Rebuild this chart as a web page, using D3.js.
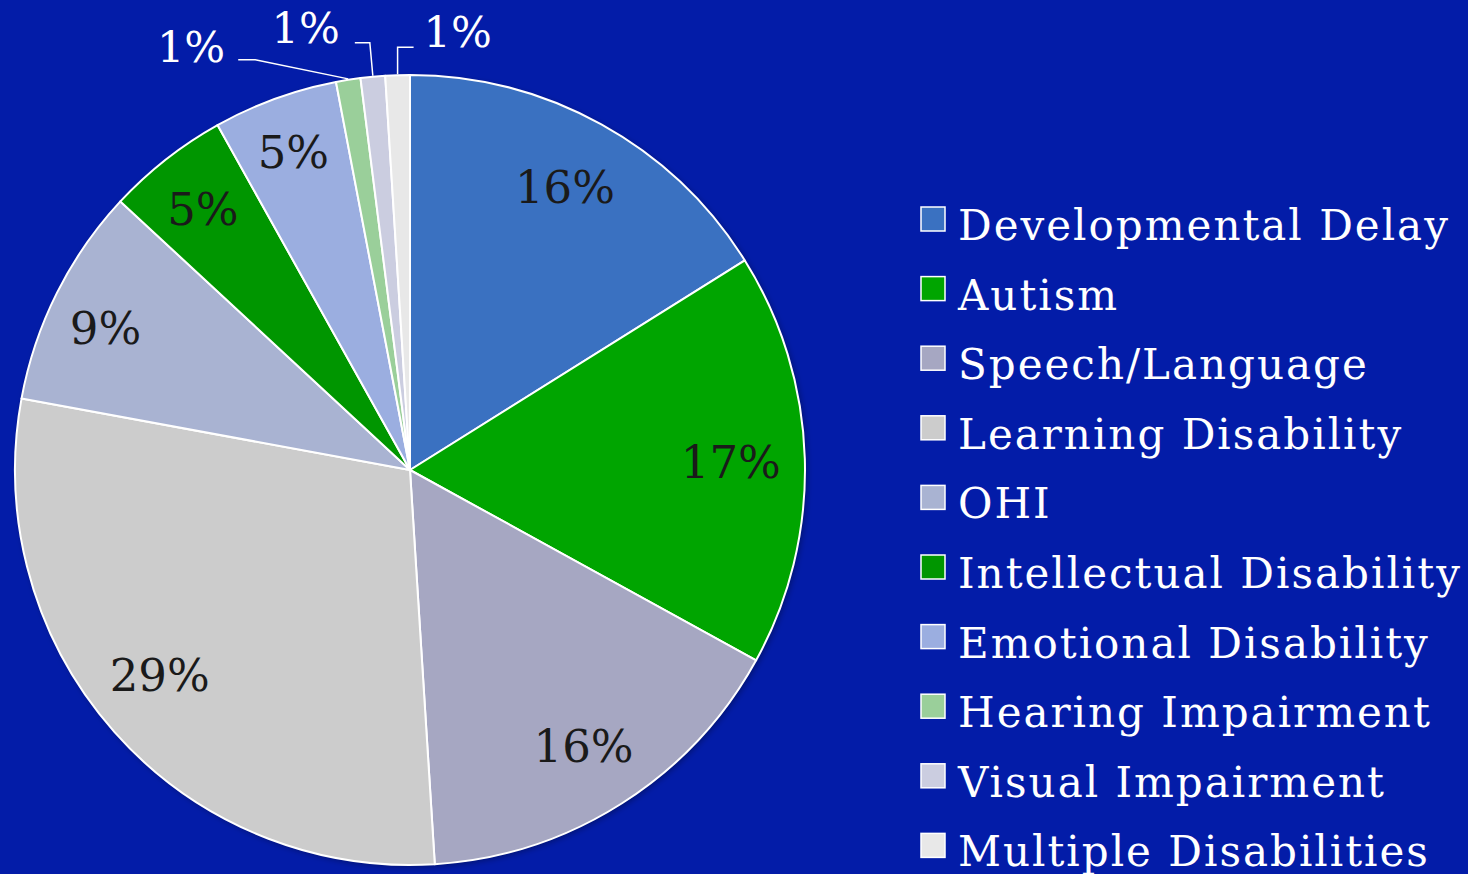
<!DOCTYPE html>
<html>
<head>
<meta charset="utf-8">
<script src="https://cdn.jsdelivr.net/npm/d3@7"></script>
<style>
  html, body { margin: 0; padding: 0; background: #031ca8; }
  svg { display: block; }
  text { font-family: "DejaVu Serif", "Liberation Serif", serif; }
</style>
</head>
<body>
<svg width="1468" height="874"></svg>
<script>
const categories = [
  'Developmental Delay', 'Autism', 'Speech/Language', 'Learning Disability', 'OHI',
  'Intellectual Disability', 'Emotional Disability', 'Hearing Impairment',
  'Visual Impairment', 'Multiple Disabilities'
];
const shares = [16.1, 16.9, 16.0, 28.9, 9.0, 5.0, 5.1, 1.0, 1.0, 1.0];
const labels = ['16%', '17%', '16%', '29%', '9%', '5%', '5%', '1%', '1%', '1%'];
const colors = [
  '#3a71c1', '#00a500', '#a6a7c2', '#cccccc', '#a9b3d2',
  '#009600', '#9baee0', '#9acf9a', '#cbcde0', '#e8e8e8'
];

const svg = d3.select('svg');

const cx = 410, cy = 470, radius = 395;

// soft shadow behind the pie
const defs = svg.append('defs');
const shadow = defs.append('filter').attr('id', 'shadow')
  .attr('x', '-10%').attr('y', '-10%').attr('width', '120%').attr('height', '120%');
shadow.append('feDropShadow')
  .attr('dx', 2).attr('dy', 2).attr('stdDeviation', 3)
  .attr('flood-color', '#000').attr('flood-opacity', 0.35);

const data = categories.map((c, i) => ({ name: c, value: shares[i], label: labels[i], color: colors[i] }));

const pie = d3.pie().sort(null).value(d => d.value);
const arcs = pie(data);

const arc = d3.arc().innerRadius(0).outerRadius(radius);
const labelArc = d3.arc().innerRadius(radius * 0.82).outerRadius(radius * 0.82);
const edgeArc = d3.arc().innerRadius(radius).outerRadius(radius);

const g = svg.append('g').attr('transform', `translate(${cx}, ${cy})`);

g.append('circle').attr('r', radius).attr('fill', '#fff').attr('filter', 'url(#shadow)');

g.selectAll('path.slice')
  .data(arcs)
  .join('path')
  .attr('class', 'slice')
  .attr('d', arc)
  .attr('fill', d => d.data.color)
  .attr('stroke', '#fff')
  .attr('stroke-width', 2)
  .attr('stroke-linejoin', 'round');

// inside labels; small nudges mimic the "best fit" placement
const nudges = [[-2, 0], [-3, 1], [0, 2], [-8, -10], [-15, 3], [-7, -7], [-6, -14]];
const inside = arcs.filter(d => d.data.value >= 3);
g.selectAll('text.inside')
  .data(inside)
  .join('text')
  .attr('class', 'inside')
  .attr('transform', (d, i) => {
    const [x, y] = labelArc.centroid(d);
    return `translate(${x + nudges[i][0]}, ${y + nudges[i][1]})`;
  })
  .attr('text-anchor', 'middle')
  .attr('dy', '0.36em')
  .attr('font-size', 45)
  .attr('fill', '#1a1a1a')
  .text(d => d.data.label);

// outside labels with leader lines for the tiny slices
const outsideLayout = [
  { elbow: [-93, -20], end: -17, anchor: 'end', gap: -13, base: 2 },
  { elbow: [-3, -34], end: -15, anchor: 'end', gap: -15, base: 0 },
  { elbow: [0, -28], end: 16, anchor: 'start', gap: 10, base: 0 }
];
const outside = arcs.filter(d => d.data.value < 3);
outside.forEach((d, i) => {
  const [ex, ey] = edgeArc.centroid(d);
  const L = outsideLayout[i];
  const kx = ex + L.elbow[0], ky = ey + L.elbow[1];
  const pts = [[ex, ey - 1], [kx, ky], [kx + L.end, ky]];
  g.append('path')
    .attr('d', d3.line()(pts))
    .attr('fill', 'none')
    .attr('stroke', '#fff')
    .attr('stroke-width', 1.5);
  g.append('text')
    .attr('x', kx + L.end + L.gap)
    .attr('y', ky + L.base)
    .attr('text-anchor', L.anchor)
    .attr('font-size', 43)
    .attr('fill', '#fff')
    .text(d.data.label);
});

// legend
const legendX = 921, legendY0 = 219, legendStep = 69.6, swatch = 24;
const legend = svg.append('g').attr('class', 'legend');
const item = legend.selectAll('g')
  .data(data)
  .join('g')
  .attr('transform', (d, i) => `translate(${legendX}, ${legendY0 + i * legendStep})`);
item.append('rect')
  .attr('x', 0).attr('y', -swatch / 2)
  .attr('width', swatch).attr('height', swatch)
  .attr('fill', d => d.color)
  .attr('stroke', '#fff').attr('stroke-width', 1.5);
item.append('text')
  .attr('x', 37)
  .attr('y', 21)
  .attr('font-size', 42)
  .attr('letter-spacing', 2)
  .attr('fill', '#fff')
  .text(d => d.name);
</script>
</body>
</html>
